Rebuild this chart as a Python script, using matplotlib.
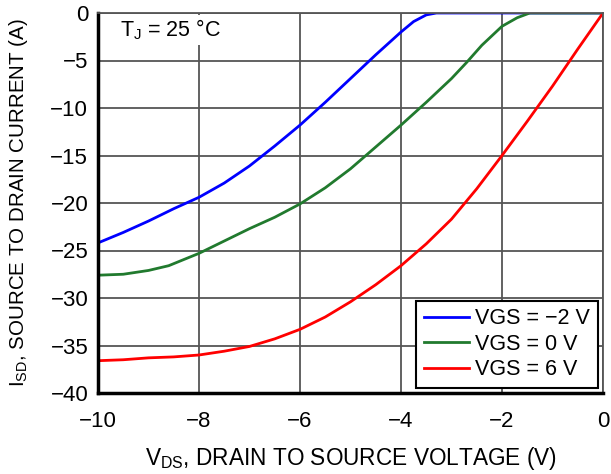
import matplotlib
matplotlib.use('Agg')
from matplotlib import pyplot as plt

plt.rcParams['font.family'] = ['Liberation Sans', 'DejaVu Sans']

# VGS = -2 V
vds_m2 = [-10, -9.5, -9, -8.5, -8, -7.5, -7, -6.5, -6, -5.5, -5, -4.5, -4, -3.75, -3.5, -3.3, 0]
isd_m2 = [-24.2, -23.1, -21.9, -20.6, -19.4, -17.9, -16.1, -14.0, -11.8, -9.4, -6.9, -4.4, -2.0, -0.9, -0.2, 0, 0]

# VGS = 0 V
vds_0 = [-10, -9.5, -9, -8.6, -8, -7.5, -7, -6.5, -6, -5.5, -5, -4.5, -4, -3.5, -3, -2.7, -2.4, -2, -1.7, -1.45, 0]
isd_0 = [-27.6, -27.5, -27.1, -26.6, -25.3, -24.0, -22.7, -21.5, -20.1, -18.4, -16.4, -14.1, -11.8, -9.4, -6.9, -5.2, -3.4, -1.4, -0.5, 0, 0]

# VGS = 6 V
vds_6 = [-10, -9.5, -9, -8.5, -8, -7.5, -7, -6.5, -6, -5.5, -5, -4.5, -4, -3.5, -3, -2.5, -2, -1.5, -1, -0.5, 0]
isd_6 = [-36.6, -36.5, -36.3, -36.2, -36.0, -35.6, -35.1, -34.3, -33.3, -32.0, -30.4, -28.6, -26.6, -24.3, -21.7, -18.5, -15.0, -11.4, -7.7, -3.8, 0]

xticks = [-10, -8, -6, -4, -2, 0]
yticks = [0, -5, -10, -15, -20, -25, -30, -35, -40]

fig = plt.figure(figsize=(6.11, 4.74), dpi=100)
ax = fig.add_axes([98 / 611, 81 / 474, 505 / 611, 380 / 474])

ax.plot(vds_m2, isd_m2, color='#0000ff', lw=2, label='VGS = \u22122 V')
ax.plot(vds_0, isd_0, color='#217a2e', lw=2, label='VGS = 0 V')
ax.plot(vds_6, isd_6, color='#ff0000', lw=2, label='VGS = 6 V')

ax.set_xlim(-10, 0)
ax.set_ylim(-40, 0)
ax.set_xticks(xticks)
ax.set_yticks(yticks)
ax.set_xticklabels([str(t).replace('-', '\u2212') for t in xticks])
ax.set_yticklabels([str(t).replace('-', '\u2212') for t in yticks])
ax.tick_params(axis='both', length=0, labelsize=16)
ax.tick_params(axis='x', pad=13)
ax.tick_params(axis='y', pad=7)

ax.grid(True, color='#555555', lw=1.3)
ax.set_axisbelow(True)
for side in ['top', 'right']:
    ax.spines[side].set_color('#555555')
    ax.spines[side].set_linewidth(1.3)
for side in ['left', 'bottom']:
    ax.spines[side].set_color('black')
    ax.spines[side].set_linewidth(2.5)

ax.set_xlabel('V$_{\\mathregular{DS}}$, DRAIN TO SOURCE VOLTAGE (V)', fontsize=16.3, labelpad=9)
ax.set_ylabel('I$_{\\mathregular{SD}}$, SOURCE TO DRAIN CURRENT (A)', fontsize=14.8, labelpad=15)

ax.text(-9.56, -1.8, 'T$_{\\mathregular{J}}$ = 25 \u00b0C', fontsize=15.5, va='center', ha='left',
        bbox=dict(facecolor='white', edgecolor='none', pad=2))

leg = ax.legend(loc='lower right', fontsize=15.5, fancybox=False, framealpha=1,
                edgecolor='black', handlelength=2.1, handletextpad=0.3,
                borderpad=0.35, labelspacing=0.2, borderaxespad=0.25)
leg.get_frame().set_linewidth(1.5)

fig.savefig('out.png', dpi=100)
